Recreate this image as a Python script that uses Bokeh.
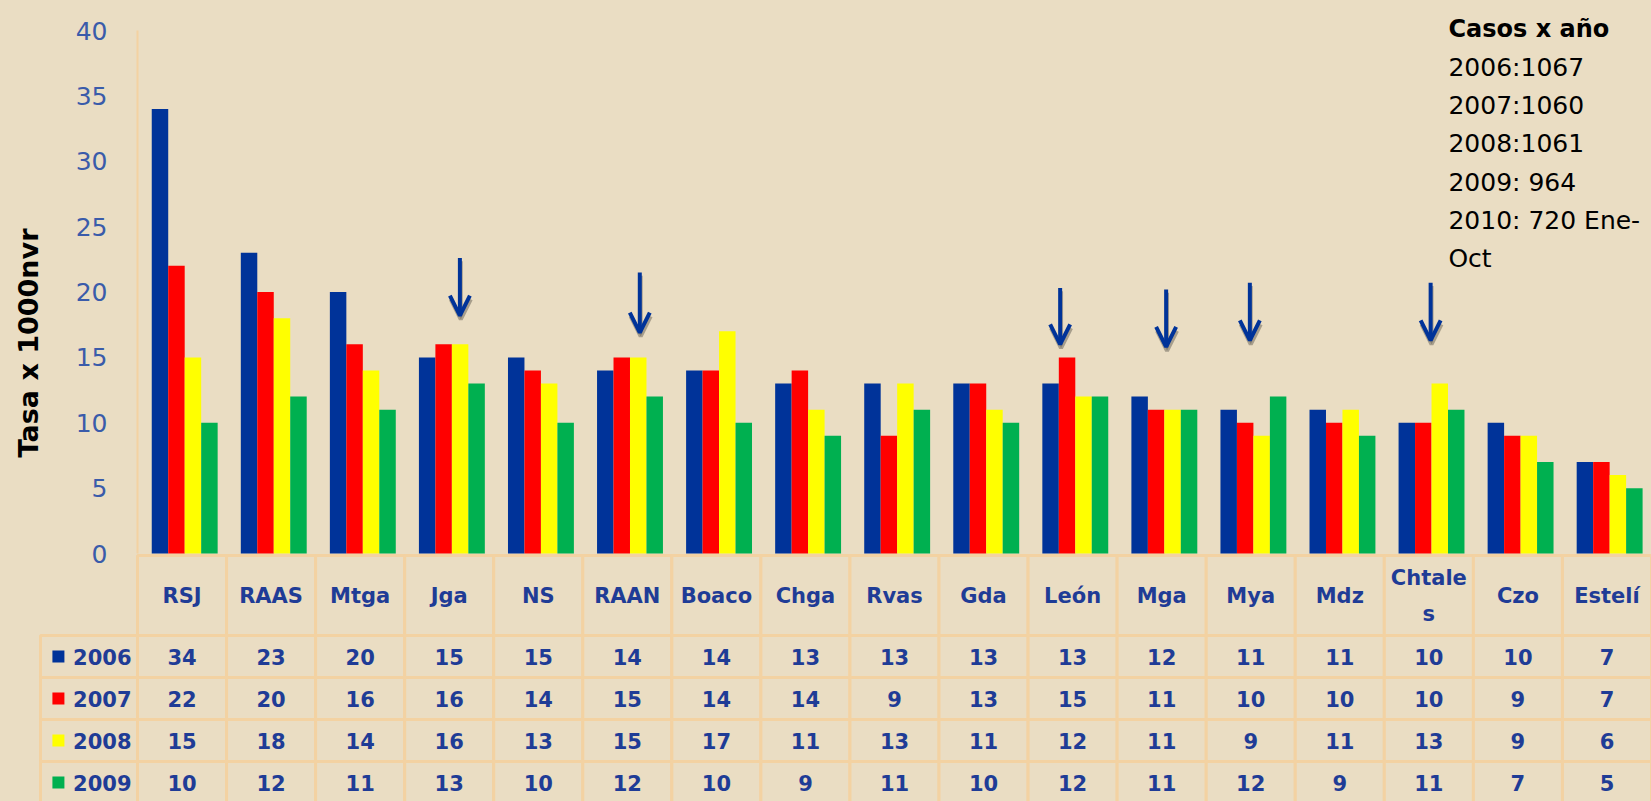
import math
from bokeh.plotting import figure
from bokeh.models import Range1d, FixedTicker, Arrow, OpenHead, ColumnDataSource
from bokeh.embed import file_html
from bokeh.resources import INLINE
from bokeh.core.properties import value

# ---------------- data ----------------
categories = ["RSJ", "RAAS", "Mtga", "Jga", "NS", "RAAN", "Boaco", "Chga", "Rvas",
              "Gda", "León", "Mga", "Mya", "Mdz", "Chtale\ns", "Czo", "Estelí"]
years = ["2006", "2007", "2008", "2009"]
v2006 = [34, 23, 20, 15, 15, 14, 14, 13, 13, 13, 13, 12, 11, 11, 10, 10, 7]
v2007 = [22, 20, 16, 16, 14, 15, 14, 14, 9, 13, 15, 11, 10, 10, 10, 9, 7]
v2008 = [15, 18, 14, 16, 13, 15, 17, 11, 13, 11, 12, 11, 9, 11, 13, 9, 6]
v2009 = [10, 12, 11, 13, 10, 12, 10, 9, 11, 10, 12, 11, 12, 9, 11, 7, 5]
y_ticks = [0, 5, 10, 15, 20, 25, 30, 35, 40]
y_label = "Tasa x 1000nvr"
note_title = "Casos x año"
note_lines = ["2006:1067", "2007:1060", "2008:1061", "2009:  964", "2010: 720 Ene-", "Oct"]

# annotation arrows (category units, value units)
arrow_x = [3.62, 5.64, 10.36, 11.55, 12.49, 14.52]
arrow_top = [22.6, 21.5, 20.3, 20.2, 20.7, 20.7]
arrow_tip = [18.2, 16.9, 16.0, 15.8, 16.3, 16.3]

# ---------------- styles / geometry ----------------
BG = "#EADDC3"
PEACH = "#F3D2A2"
TXT_BLUE = "#1F3C96"
TICK_BLUE = "#3A5BAA"
COLORS = ["#003399", "#FF0000", "#FFFF00", "#00B050"]
FONT = "DejaVu Sans"

W, H = 1651, 801
AXIS_X = 137          # pixel position of the value axis
ZERO_Y = 553          # pixel (from top) of value 0
PX_PER_VAL = 13.075
N = len(categories)
unit = (W - AXIS_X) / N

x_start = -AXIS_X / unit
y_start = -(H - ZERO_Y) / PX_PER_VAL
y_end = ZERO_Y / PX_PER_VAL

p = figure(width=W, height=H, x_range=Range1d(x_start, N), y_range=Range1d(y_start, y_end),
           output_backend="svg", toolbar_location=None,
           min_border_left=0, min_border_right=0, min_border_top=0, min_border_bottom=0,
           background_fill_color=BG, border_fill_color=BG)
# table rows are laid out in pixels measured from the top
p.extra_y_ranges = {"tbl": Range1d(H, 0)}
p.outline_line_color = None
p.grid.visible = False
p.xaxis.visible = False

ya = p.yaxis[0]
ya.fixed_location = 0
ya.ticker = FixedTicker(ticks=y_ticks)
ya.bounds = (0, 40)
ya.axis_line_color = PEACH
ya.axis_line_width = 2
ya.major_tick_line_color = None
ya.minor_tick_line_color = None
ya.major_tick_out = 0
ya.major_tick_in = 0
ya.major_label_standoff = 30
ya.major_label_text_font = FONT
ya.major_label_text_font_size = "25px"
ya.major_label_text_color = TICK_BLUE

# bars
bw = 0.185
series = [v2006, v2007, v2008, v2009]
for j, vals in enumerate(series):
    xs = [i + 0.5 + (j - 1.5) * bw + 0.03 for i in range(N)]
    src = ColumnDataSource(dict(x=xs, top=vals))
    p.vbar(x="x", top="top", width=bw, bottom=0, source=src,
           fill_color=COLORS[j], line_color=None)

# arrows with shadow
for xa, yt, yb in zip(arrow_x, arrow_top, arrow_tip):
    p.add_layout(Arrow(x_start=xa + 0.01, y_start=yt - 0.25, x_end=xa + 0.01, y_end=yb - 0.3,
                       line_color="#6F6A5E", line_width=4, line_alpha=0.55,
                       end=OpenHead(size=20, line_color="#6F6A5E", line_width=4, line_alpha=0.55)))
    p.add_layout(Arrow(x_start=xa, y_start=yt, x_end=xa, y_end=yb,
                       line_color="#003399", line_width=4,
                       end=OpenHead(size=20, line_color="#003399", line_width=4)))

# y label (rotated text)
p.text(x=[-1.224], y=[16.1], text=[y_label], angle=math.pi / 2,
       text_align="center", text_baseline="middle",
       text_font=value(FONT), text_font_style="bold", text_font_size="27px",
       text_color="black")

# note text
nx = 14.72
ny0 = 40.08
nstep = 2.92
p.text(x=[nx], y=[ny0], text=[note_title], text_font=value(FONT), text_font_style="bold",
       text_font_size="24px", text_color="black", text_align="left", text_baseline="middle")
p.text(x=[nx] * len(note_lines), y=[ny0 - nstep * (k + 1) for k in range(len(note_lines))],
       text=note_lines, text_font=value(FONT), text_font_size="25px", text_color="black",
       text_align="left", text_baseline="middle")

# ---------------- table ----------------
TABLE_TOP = 555
HEAD_H = 80
ROW_H = 42
hdr_w = 1.089
n_rows = len(years)
head_y = TABLE_TOP + HEAD_H / 2
row_y = [TABLE_TOP + HEAD_H + ROW_H / 2 + ROW_H * k for k in range(n_rows)]
col_x = [i + 0.5 for i in range(N)]

p.rect(x=col_x, y=[head_y] * N, width=1, height=HEAD_H, y_range_name="tbl",
       fill_color=BG, line_color=PEACH, line_width=3)
p.text(x=col_x, y=[head_y] * N, text=categories, y_range_name="tbl",
       text_font=value(FONT), text_font_style="bold", text_font_size="21px",
       text_line_height=1.5,
       text_color=TXT_BLUE, text_align="center", text_baseline="middle")

for k, (yr, vals) in enumerate(zip(years, series)):
    yy = row_y[k]
    p.rect(x=col_x, y=[yy] * N, width=1, height=ROW_H, y_range_name="tbl",
           fill_color=BG, line_color=PEACH, line_width=3)
    p.rect(x=[-hdr_w / 2], y=[yy], width=hdr_w, height=ROW_H, y_range_name="tbl",
           fill_color=BG, line_color=PEACH, line_width=3)
    p.text(x=col_x, y=[yy] * N, text=[str(v) for v in vals], y_range_name="tbl",
           text_font=value(FONT), text_font_style="bold", text_font_size="21px",
           text_color=TXT_BLUE, text_align="center", text_baseline="middle")
    p.scatter(x=[-0.888], y=[yy], marker="square", size=12, y_range_name="tbl",
              fill_color=COLORS[k], line_color=None)
    p.text(x=[-0.067], y=[yy], text=[yr], y_range_name="tbl",
           text_font=value(FONT), text_font_style="bold",
           text_font_size="21px", text_color=TXT_BLUE, text_align="right",
           text_baseline="middle")

html = file_html(p, INLINE)
html = html.replace("</head>",
                    "<style>html,body{margin:0;padding:0;overflow:hidden;background-color:%s;}</style></head>" % BG, 1)
open("out.html", "w").write(html)
